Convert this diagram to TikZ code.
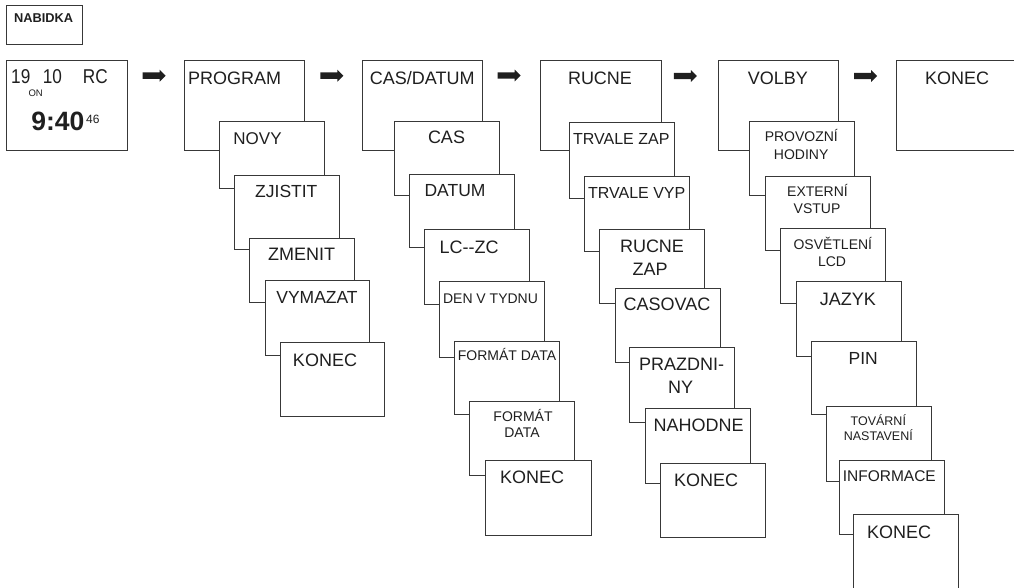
\documentclass[tikz,border=0pt]{standalone}
\usepackage{fontspec}
\setmainfont{Liberation Sans}
\newfontfamily\condfont[FakeStretch=0.86]{Liberation Sans}
\usetikzlibrary{fit,shapes.arrows}
\newcommand\fsz[1]{\fontsize{#1}{#1}\selectfont}
\newcommand\bx[5]{\node[box, fit={(#2,#3) (#4,#5)}] (#1) {};}
\newcommand\lb[5]{\node[lbl, font=\fsz{#3}] (#1) at (#4,#5) {#2};}
\begin{document}
\begin{tikzpicture}[x=1pt,y=-1pt,
  box/.style={draw=black!78, line width=0.9pt, fill=white, inner sep=0pt, outer sep=0pt},
  lbl/.style={anchor=base, inner sep=0pt, text=black!88},
  blockarrow/.style={single arrow, fill=black!88, draw=none, inner sep=3pt,
    minimum height=23pt, single arrow head extend=2.75pt}]
\useasboundingbox (0,0) rectangle (1014,588);
\clip (0,0) rectangle (1014,588);

% NABIDKA
\bx{nabidka}{6}{5}{82}{44}
\node[lbl, anchor=base west, font=\bfseries\fsz{12.8}] (t-nabidka) at (14,22.7) {NABIDKA};

% display
\bx{disp}{6}{60}{127}{150}
\node[lbl, anchor=base west, font=\condfont\fsz{20}] (t-19) at (11,84) {19};
\node[lbl, anchor=base west, font=\condfont\fsz{20}] (t-10) at (42.7,84) {10};
\node[lbl, anchor=base west, font=\condfont\fsz{20}] (t-rc) at (82.7,84) {RC};
\node[lbl, anchor=base west, font=\fsz{9.5}] (t-on) at (28.3,96.3) {ON};
\node[lbl, anchor=base west, font=\bfseries\fsz{26.5}] (t-time) at (31.2,130.7) {9:40};
\node[lbl, anchor=base west, font=\fsz{12}] (t-sec) at (86,124) {46};

% arrows
\node[blockarrow] (a1) at (152.5,75.7) {};
\node[blockarrow] (a2) at (330.3,75.7) {};
\node[blockarrow] (a3) at (507.5,75.5) {};
\node[blockarrow] (a4) at (683.8,76) {};
\node[blockarrow] (a5) at (864,76) {};

% PROGRAM column
\bx{program}{184}{60}{304}{150} \lb{t-program}{PROGRAM}{18}{234.7}{85}
\bx{novy}{219}{121}{324}{188} \lb{t-novy}{NOVY}{17}{257.5}{145}
\bx{zjistit}{234}{175}{339}{249} \lb{t-zjistit}{ZJISTIT}{17.5}{286.3}{197.7}
\bx{zmenit}{249}{238}{354}{302} \lb{t-zmenit}{ZMENIT}{18}{301.5}{260}
\bx{vymazat}{265}{280}{369}{355} \lb{t-vymazat}{VYMAZAT}{17.5}{317}{303}
\bx{konec1}{280}{342}{384}{416} \lb{t-konec1}{KONEC}{18}{325}{366}

% CAS/DATUM column
\bx{casdatum}{362}{60}{482}{150} \lb{t-casdatum}{CAS/DATUM}{18}{422.3}{85}
\bx{cas}{394}{121}{499}{195} \lb{t-cas}{CAS}{18}{446.5}{144}
\bx{datum}{409}{174}{514}{247} \lb{t-datum}{DATUM}{17.5}{455}{196.7}
\bx{lczc}{424}{229}{529}{304} \lb{t-lczc}{LC-{}-ZC}{18}{469}{253.3}
\bx{den}{439}{281}{544}{357} \lb{t-den}{DEN V TYDNU}{14}{490.5}{303.3}
\bx{formata}{454}{341}{559}{414} \lb{t-formata}{FORMÁT DATA}{14}{507}{360}
\bx{formatb}{469}{401}{574}{475} \lb{t-formatb1}{FORMÁT}{14}{523}{421} \lb{t-formatb2}{DATA}{14}{522}{437}
\bx{konec2}{485}{460}{591}{535} \lb{t-konec2}{KONEC}{18}{532}{483.3}

% RUCNE column
\bx{rucne}{540}{60}{661}{150} \lb{t-rucne}{RUCNE}{18}{600}{84.3}
\bx{trzap}{569}{122}{674}{198} \lb{t-trzap}{TRVALE ZAP}{16}{621.3}{145}
\bx{trvyp}{584}{176}{689}{251} \lb{t-trvyp}{TRVALE VYP}{16}{636.7}{198.3}
\bx{rzap}{599}{229}{704}{303} \lb{t-rzap1}{RUCNE}{18}{652}{252} \lb{t-rzap2}{ZAP}{18}{650}{275}
\bx{casovac}{615}{288}{720}{362} \lb{t-casovac}{CASOVAC}{18}{667}{310}
\bx{prazd}{629}{347}{734}{422} \lb{t-prazd1}{PRAZDNI-}{18}{681.7}{370} \lb{t-prazd2}{NY}{18}{680.5}{393.3}
\bx{nahodne}{645}{408}{750}{483} \lb{t-nahodne}{NAHODNE}{18}{698.7}{431.7}
\bx{konec3}{660}{463}{765}{537} \lb{t-konec3}{KONEC}{18}{706}{486.7}

% VOLBY column
\bx{volby}{718}{60}{838}{150} \lb{t-volby}{VOLBY}{18}{777.8}{84.3}
\bx{provozni}{749}{121}{854}{195} \lb{t-provozni1}{PROVOZNÍ}{14}{801.3}{141.7} \lb{t-provozni2}{HODINY}{14}{801.2}{159.3}
\bx{externi}{765}{176}{870}{250} \lb{t-externi1}{EXTERNÍ}{14}{817.5}{196.7} \lb{t-externi2}{VSTUP}{14}{817}{214}
\bx{osvetleni}{780}{228}{885}{303} \lb{t-osvetleni1}{OSVĚTLENÍ}{14}{832.8}{249.3} \lb{t-osvetleni2}{LCD}{14}{832}{266}
\bx{jazyk}{796}{281}{901}{356} \lb{t-jazyk}{JAZYK}{18}{847.8}{305}
\bx{pin}{811}{341}{916}{414} \lb{t-pin}{PIN}{17.5}{863.2}{364}
\bx{tovarni}{826}{406}{931}{481} \lb{t-tovarni1}{TOVÁRNÍ}{12.5}{878.3}{425.7} \lb{t-tovarni2}{NASTAVENÍ}{12.5}{878.3}{440.7}
\bx{informace}{839}{460}{944}{534} \lb{t-informace}{INFORMACE}{15.5}{889.3}{481}
\bx{konec4}{853}{514}{958}{600} \lb{t-konec4}{KONEC}{18}{899}{538.3}

% final KONEC
\bx{konecend}{896}{60}{1030}{150} \lb{t-konecend}{KONEC}{18}{957}{85}
\end{tikzpicture}
\end{document}
